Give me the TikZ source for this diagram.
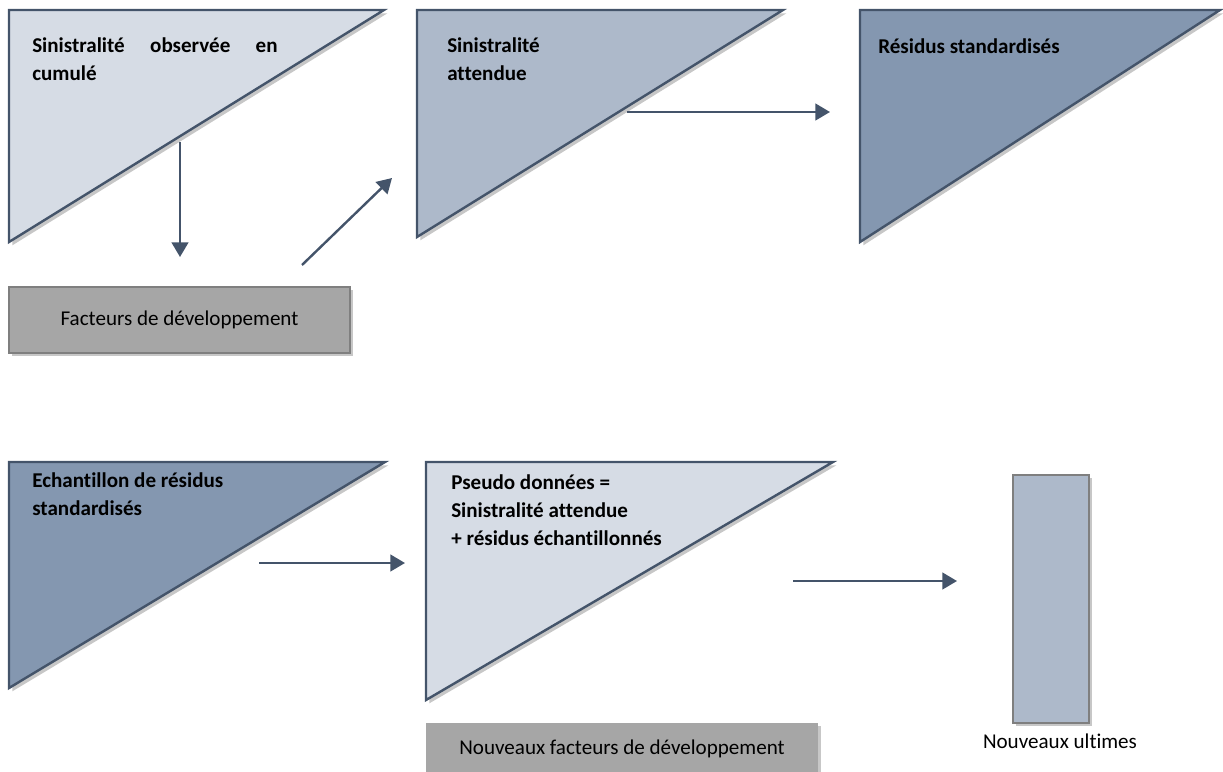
\documentclass[tikz,border=0pt]{standalone}
\usepackage{fontspec}
\setmainfont{Carlito}[Ligatures=NoCommon]
\usetikzlibrary{arrows.meta,shadows}

\definecolor{slate}{RGB}{68,84,106}
\definecolor{paleblue}{RGB}{214,220,229}
\definecolor{midblue}{RGB}{173,185,202}
\definecolor{deepblue}{RGB}{132,151,176}
\definecolor{boxgrey}{RGB}{166,166,166}
\definecolor{edgegrey}{RGB}{127,127,127}

\tikzset{
  softshadow/.style={drop shadow={shadow xshift=2.5pt, shadow yshift=-2.5pt, opacity=0.22, fill=black}},
  tri/.style={draw=slate, line width=1.8pt, line join=miter, softshadow},
  tritext/.style={anchor=base west, inner sep=0pt, align=left,
    font=\fontsize{15.8}{21}\selectfont\bfseries},
  plaintext/.style={inner sep=0pt, font=\fontsize{15.8}{21}\selectfont},
  flow/.style={draw=slate, line width=1.8pt, -{Triangle[length=11pt,width=12.5pt]}},
}

\begin{document}
\begin{tikzpicture}[x=0.75pt,y=0.75pt,yscale=-1,xscale=1]
\path[use as bounding box] (0,0) rectangle (1223,771);

% Shape: Right Triangle
\draw [tri, fill=paleblue] (9,10) -- (384,10) -- (9,242) -- cycle ;
% Shape: Right Triangle
\draw [tri, fill=midblue] (417,10) -- (783,10) -- (417,237) -- cycle ;
% Shape: Right Triangle
\draw [tri, fill=deepblue] (860,10) -- (1220,10) -- (860,242) -- cycle ;
% Shape: Right Triangle
\draw [tri, fill=deepblue] (9,462) -- (385,462) -- (9,688) -- cycle ;
% Shape: Right Triangle
\draw [tri, fill=paleblue] (426,462) -- (833,462) -- (426,700) -- cycle ;

% Text Node (base = last line)
\node [tritext] (observee) at (32,80) {\makebox[184pt][s]{Sinistralité observée en}\\cumulé};
% Text Node
\node [tritext] (attendue) at (447,80) {Sinistralité\\attendue};
% Text Node
\node [tritext] (residus) at (878,53) {Résidus standardisés};
% Text Node
\node [tritext] (echantillon) at (32,515) {Echantillon de résidus\\standardisés};
% Text Node
\node [tritext] (pseudo) at (451,545) {Pseudo données =\\Sinistralité attendue\\+ résidus échantillonnés};

% Shape: Rectangle
\node [plaintext, draw=edgegrey, line width=1.5pt, fill=boxgrey, minimum width=255.75pt, minimum height=49.5pt,
  softshadow] (facteurs) at (179.5,320) {Facteurs de développement};
% Shape: Rectangle
\node [plaintext, fill=boxgrey, minimum width=294pt, minimum height=39pt,
  softshadow] (nouveaux) at (622,749) {Nouveaux facteurs de développement};
% Shape: Rectangle
\node [draw=edgegrey, line width=1.5pt, fill=midblue, minimum width=57pt, minimum height=186pt, inner sep=0pt,
  softshadow] (ultimes) at (1051,599) {};
% Text Node
\node [plaintext, anchor=base] (ultimeslbl) at (1060,748) {Nouveaux ultimes};

% Arrow ends
\coordinate (a1s) at (180,142);
\coordinate (a1e) at (180,257);
\coordinate (a2s) at (302,265);
\coordinate (a2e) at (392,178);
\coordinate (a3s) at (627,112);
\coordinate (a3e) at (830,112);
\coordinate (a4s) at (259,563);
\coordinate (a4e) at (405,563);
\coordinate (a5s) at (793,581);
\coordinate (a5e) at (957,581);

% Connection
\draw [flow] (a1s) -- (a1e) ;
% Connection
\draw [flow] (a2s) -- (a2e) ;
% Connection
\draw [flow] (a3s) -- (a3e) ;
% Connection
\draw [flow] (a4s) -- (a4e) ;
% Connection
\draw [flow] (a5s) -- (a5e) ;

\end{tikzpicture}
\end{document}
